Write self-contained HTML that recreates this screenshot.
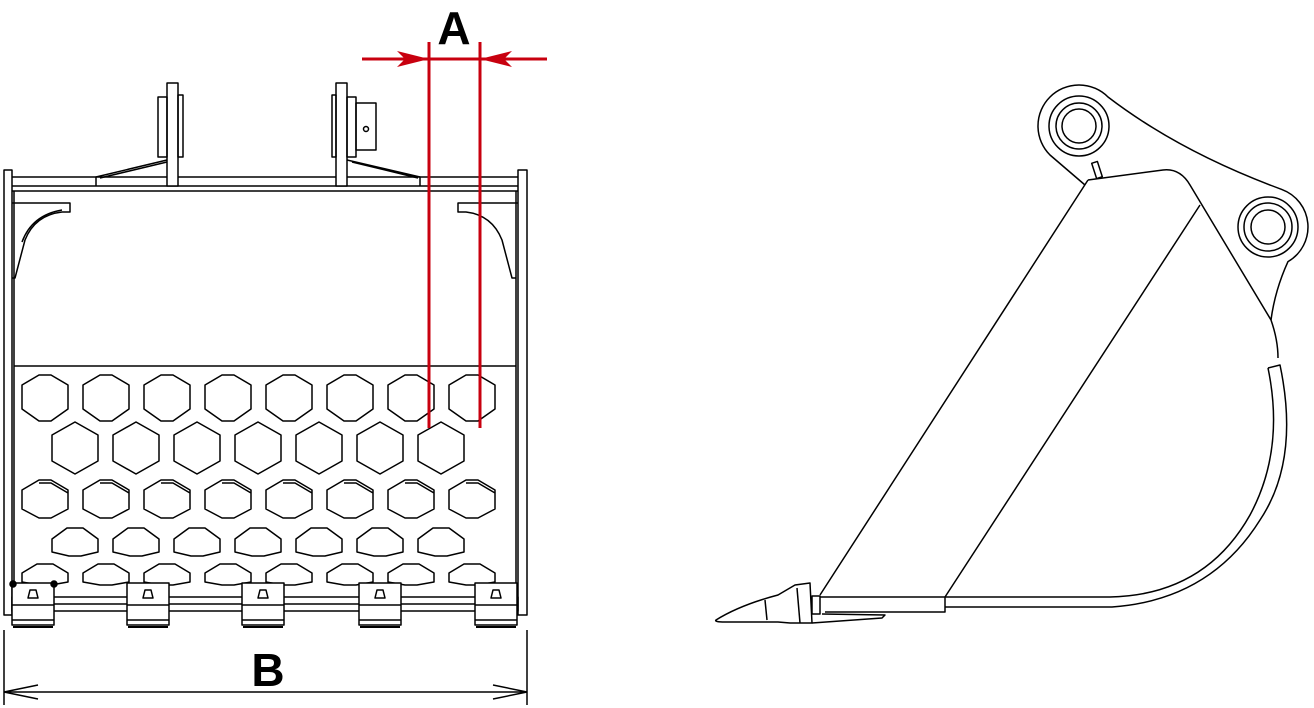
<!DOCTYPE html>
<html><head><meta charset="utf-8"><style>html,body{margin:0;padding:0;background:#fff}svg{display:block}</style></head>
<body>
<svg width="1314" height="708" viewBox="0 0 1314 708" xmlns="http://www.w3.org/2000/svg" fill="none" stroke="#000" stroke-width="1.5" stroke-linejoin="round">
<defs>
<path id="h1" d="M-6,-23 L6,-23 L23,-13 L23,11 L6,23 L-6,23 L-23,11 L-23,-13 Z"/>
<path id="h2" d="M0,-26 L23,-13 L23,13 L0,26 L-23,13 L-23,-13 Z"/>
<path id="h3" d="M-6,-19 L6,-19 L23,-9 L23,10 L6,19 L-6,19 L-23,10 L-23,-9 Z M-6,-16 L6,-16 L23,-6"/>
<path id="h4" d="M-8,-16 L8,-16 L23,-5 L23,8 L6,12 L-6,12 L-23,8 L-23,-5 Z"/>
<path id="h5" d="M-8,-12 L8,-12 L23,-3 L23,6 L6,9 L-6,9 L-23,6 L-23,-3 Z"/>
<g id="tooth">
<rect x="-21" y="583" width="42" height="42" fill="#fff"/>
<line x1="-21" y1="605" x2="21" y2="605"/>
<line x1="-21" y1="620" x2="21" y2="620"/>
<path d="M-5,598 L5,598 L3,590 L-3,590 Z"/>
<line x1="-20" y1="627" x2="20" y2="627" stroke-width="2"/>
</g>
</defs>
<!-- LEFT BUCKET -->
<rect x="4" y="170" width="8" height="445"/>
<rect x="518" y="170" width="9" height="445"/>
<line x1="12" y1="177" x2="518" y2="177"/>
<line x1="12" y1="186" x2="518" y2="186"/>
<line x1="12" y1="191" x2="518" y2="191"/>
<line x1="14" y1="191" x2="14" y2="597"/>
<line x1="516" y1="191" x2="516" y2="597"/>
<path d="M12,203 L70,203 L70,212 L62,212 Q35,215 25,240 L15,278 L12,278"/>
<path d="M62,210 Q32,215 22,242"/>
<path d="M518,203 L458,203 L458,212 L466,212 Q492,215 502,240 L512,278 L516,278"/>
<rect x="167" y="83" width="11" height="103" fill="#fff"/>
<rect x="158" y="97" width="9" height="60"/>
<rect x="178" y="95" width="5" height="62"/>
<path d="M167,160 L96,177 L96,186 M167,162 L100,178"/>
<rect x="336" y="83" width="11" height="103" fill="#fff"/>
<rect x="332" y="95" width="4" height="62"/>
<rect x="347" y="97" width="9" height="60"/>
<rect x="356" y="103" width="20" height="47"/>
<circle cx="366" cy="129" r="2.5"/>
<path d="M347,160 L420,177 L420,186 M352,162 L418,178"/>
<line x1="14" y1="366" x2="516" y2="366"/>
<g>
<use href="#h1" x="45" y="398"/><use href="#h1" x="106" y="398"/><use href="#h1" x="167" y="398"/><use href="#h1" x="228" y="398"/><use href="#h1" x="289" y="398"/><use href="#h1" x="350" y="398"/><use href="#h1" x="411" y="398"/><use href="#h1" x="472" y="398"/>
<use href="#h2" x="75" y="448"/><use href="#h2" x="136" y="448"/><use href="#h2" x="197" y="448"/><use href="#h2" x="258" y="448"/><use href="#h2" x="319" y="448"/><use href="#h2" x="380" y="448"/><use href="#h2" x="441" y="448"/>
<use href="#h3" x="45" y="499"/><use href="#h3" x="106" y="499"/><use href="#h3" x="167" y="499"/><use href="#h3" x="228" y="499"/><use href="#h3" x="289" y="499"/><use href="#h3" x="350" y="499"/><use href="#h3" x="411" y="499"/><use href="#h3" x="472" y="499"/>
<use href="#h4" x="75" y="544"/><use href="#h4" x="136" y="544"/><use href="#h4" x="197" y="544"/><use href="#h4" x="258" y="544"/><use href="#h4" x="319" y="544"/><use href="#h4" x="380" y="544"/><use href="#h4" x="441" y="544"/>
<use href="#h5" x="45" y="576"/><use href="#h5" x="106" y="576"/><use href="#h5" x="167" y="576"/><use href="#h5" x="228" y="576"/><use href="#h5" x="289" y="576"/><use href="#h5" x="350" y="576"/><use href="#h5" x="411" y="576"/><use href="#h5" x="472" y="576"/>
</g>
<rect x="12" y="597" width="506" height="14" fill="#fff"/>
<line x1="12" y1="604" x2="518" y2="604"/>
<use href="#tooth" x="33"/><use href="#tooth" x="148"/><use href="#tooth" x="263"/><use href="#tooth" x="380"/><use href="#tooth" x="496"/>
<circle cx="13" cy="584" r="3" fill="#000"/><circle cx="54" cy="584" r="3" fill="#000"/>
<line x1="4" y1="630" x2="4" y2="705"/>
<line x1="527" y1="630" x2="527" y2="705"/>
<line x1="4" y1="692" x2="527" y2="692"/>
<path d="M4,692 L38,685 M4,692 L38,699 M527,692 L493,685 M527,692 L493,699"/>
<text x="268" y="686" font-family="Liberation Sans, sans-serif" font-weight="bold" font-size="46" fill="#000" stroke="none" text-anchor="middle">B</text>
<g stroke="#c8000f" stroke-width="3">
<line x1="429" y1="42" x2="429" y2="428"/>
<line x1="480" y1="42" x2="480" y2="428"/>
<line x1="362" y1="59" x2="547" y2="59"/>
</g>
<path d="M429,59 L397,51 L405,59 L397,67 Z M480,59 L512,51 L504,59 L512,67 Z" fill="#c8000f" stroke="none"/>
<text x="454" y="44" font-family="Liberation Sans, sans-serif" font-weight="bold" font-size="46" fill="#000" stroke="none" text-anchor="middle">A</text>
<!-- RIGHT BUCKET -->
<path d="M1085,185 L1050,155 A41,41 0 1 1 1108,97 Q1180,152 1281.7,189.4 A40,40 0 0 1 1288,261.6 Q1275,290 1271,320"/>
<circle cx="1079" cy="126" r="30"/><circle cx="1079" cy="126" r="23"/><circle cx="1079" cy="126" r="17"/>
<circle cx="1268" cy="227" r="30"/><circle cx="1268" cy="227" r="24"/><circle cx="1268" cy="227" r="17"/>
<rect x="1094" y="162" width="6" height="16" transform="rotate(-18 1097 170)"/>
<path d="M1088,180 L1163,170 Q1180,168 1190,185 L1271,320 Q1278,340 1278,358"/>
<line x1="1088" y1="180" x2="820" y2="595"/>
<line x1="1200" y1="205" x2="945" y2="597"/>
<path d="M1268,368 L1280,365 Q1300,460 1260,520 Q1210,600 1112,607 L945,607"/>
<path d="M1268,368 Q1285,450 1250,515 Q1205,595 1110,597 L945,597"/>
<path d="M820,597 L848,597 L945,597 L945,612 L825,612"/>
<path d="M822,614 L885,615 L882,618 L812,623"/>
<path d="M716,620 Q740,605 778,595 L795,585 L810,583 L812,623 L790,623 L778,622 L725,622 Q714,622 716,620 Z" fill="#fff"/>
<line x1="797" y1="588" x2="800" y2="623"/>
<line x1="765" y1="600" x2="767" y2="620"/>
<rect x="812" y="596" width="8" height="18"/>
</svg>
</body></html>
